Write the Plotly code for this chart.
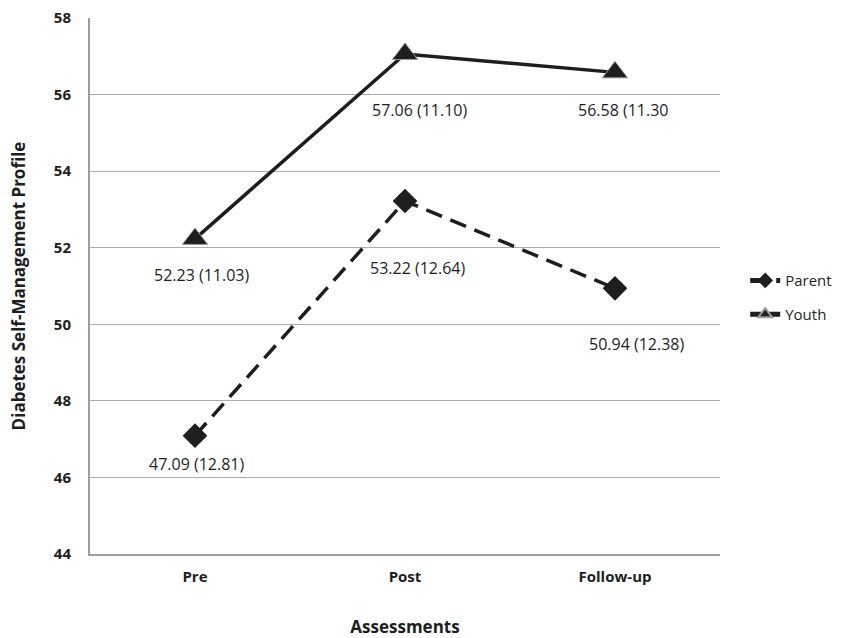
import plotly.graph_objects as go

categories = ["Pre", "Post", "Follow-up"]
parent = [47.09, 53.22, 50.94]
youth = [52.23, 57.06, 56.58]
parent_labels = ["47.09 (12.81)", "53.22 (12.64)", "50.94 (12.38)"]
youth_labels = ["52.23 (11.03)", "57.06 (11.10)", "56.58 (11.30"]
y_ticks = [44, 46, 48, 50, 52, 54, 56, 58]

FONT = "Open Sans"
INK = "#1e1e1e"

fig = go.Figure()
fig.add_trace(go.Scatter(
    x=categories, y=parent, name="Parent", mode="lines+markers",
    line=dict(color=INK, width=3.5, dash="17px,9px"),
    marker=dict(symbol="diamond", size=19, color=INK),
    legend="legend",
))
fig.add_trace(go.Scatter(
    x=categories, y=youth, name="Youth", mode="lines+markers",
    line=dict(color=INK, width=3.5),
    marker=dict(symbol="triangle-up", size=22, color=INK,
                line=dict(color="#9a9a9a", width=1)),
    legend="legend2",
))

# label offsets (pixels)
p_shift = [(1, -28), (12, -67), (21, -56)]
y_shift = [(6, -36), (14, -56), (8, -38)]
for i, c in enumerate(categories):
    fig.add_annotation(x=c, y=parent[i], text=parent_labels[i], showarrow=False,
                       xshift=p_shift[i][0], yshift=p_shift[i][1],
                       font=dict(family=FONT, size=16, color=INK))
    fig.add_annotation(x=c, y=youth[i], text=youth_labels[i], showarrow=False,
                       xshift=y_shift[i][0], yshift=y_shift[i][1],
                       font=dict(family=FONT, size=16, color=INK))

leg_common = dict(xanchor="left", yanchor="middle", itemsizing="constant",
                  font=dict(family=FONT, size=15, color=INK),
                  bgcolor="rgba(0,0,0,0)")

fig.update_layout(
    width=846, height=638,
    margin=dict(l=90, r=126, t=18, b=84, autoexpand=False),
    paper_bgcolor="white", plot_bgcolor="white",
    font=dict(family=FONT, color=INK),
    showlegend=True,
    legend=dict(x=1.04, y=0.51, **leg_common),
    legend2=dict(x=1.04, y=0.447, **leg_common),
    xaxis=dict(
        type="category", range=[-0.5, 2.5], automargin=False,
        showgrid=False, showline=True, linecolor="#9e9e9e", linewidth=2,
        ticks="", ticklabelstandoff=8,
        tickfont=dict(family=FONT, size=15, color=INK, weight="bold"),
        title=dict(text="Assessments", standoff=36,
                   font=dict(family=FONT, size=17, color=INK, weight="bold")),
    ),
    yaxis=dict(
        range=[44, 58], tickvals=y_ticks, ticktext=[str(v) for v in y_ticks],
        automargin=False,
        showgrid=True, gridcolor="#ababab", gridwidth=1,
        showline=True, linecolor="#9e9e9e", linewidth=2,
        ticks="", ticklabelstandoff=14, zeroline=False,
        tickfont=dict(family=FONT, size=15, color=INK, weight="bold"),
        title=dict(text="Diabetes Self-Management Profile", standoff=24,
                   font=dict(family=FONT, size=17, color=INK, weight="bold")),
    ),
)

fig.write_html("out.html", config={"displayModeBar": False},
               post_script="document.body.style.margin='0';")
